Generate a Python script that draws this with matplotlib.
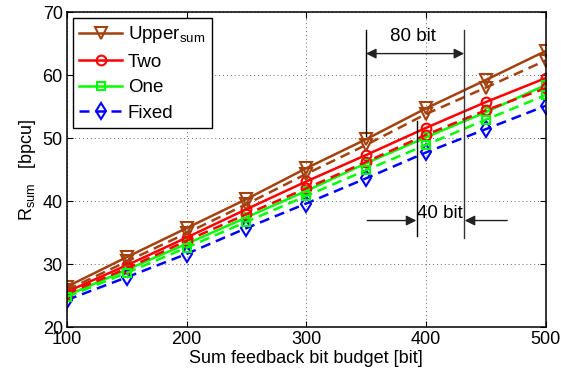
import matplotlib
matplotlib.use("Agg")
import matplotlib.pyplot as plt

plt.rcParams['font.family'] = ['Liberation Sans', 'DejaVu Sans']
plt.rcParams['mathtext.fontset'] = 'custom'
plt.rcParams['mathtext.rm'] = 'Liberation Sans'
plt.rcParams['mathtext.it'] = 'Liberation Sans'

x = [100, 150, 200, 250, 300, 350, 400, 450, 500]
upper_solid = [26.4, 31.1, 35.7, 40.3, 45.2, 49.8, 54.7, 59.2, 63.8]
upper_dashed = [25.9, 30.4, 34.9, 39.5, 44.3, 48.9, 53.8, 58.0, 62.3]
two_solid = [25.6, 29.8, 34.2, 38.7, 43.1, 47.3, 51.6, 55.7, 59.5]
two_dashed = [25.3, 29.3, 33.7, 37.9, 42.0, 46.2, 50.5, 54.4, 57.9]
one_solid = [25.0, 29.1, 33.2, 37.4, 41.6, 46.0, 50.1, 54.1, 58.4]
one_dashed = [24.8, 28.6, 32.6, 36.7, 40.8, 44.9, 48.9, 52.9, 56.8]
fixed = [24.3, 27.9, 31.6, 35.7, 39.6, 43.6, 47.7, 51.4, 55.1]

xticks = [100, 200, 300, 400, 500]
yticks = [20, 30, 40, 50, 60, 70]

brown = '#A3420F'
red = '#FF0000'
green = '#00FF00'
blue = '#0000FF'

fig = plt.figure(figsize=(5.61, 3.73), dpi=100)
ax = fig.add_axes([0.1194, 0.1233, 0.8530, 0.8445])

lw = 1.8
ms = 8
mew = 1.5
dash = (4.0, 2.4)

ax.plot(x, upper_solid, '-', color=brown, lw=lw, marker='v', ms=ms, mfc='none', mew=mew, label=r'Upper$_{\mathrm{sum}}$')
ax.plot(x, two_solid, '-', color=red, lw=lw, marker='o', ms=ms - 1, mfc='none', mew=mew, label='Two')
ax.plot(x, one_solid, '-', color=green, lw=lw, marker='s', ms=ms - 2, mfc='none', mew=mew, label='One')
ax.plot(x, fixed, '--', color=blue, lw=lw, marker='d', ms=ms, mfc='none', mew=mew, dashes=dash, label='Fixed')
ax.plot(x, upper_dashed, '--', color=brown, lw=lw, marker='v', ms=ms, mfc='none', mew=mew, dashes=dash)
ax.plot(x, two_dashed, '--', color=red, lw=lw, marker='o', ms=ms - 1, mfc='none', mew=mew, dashes=dash)
ax.plot(x, one_dashed, '--', color=green, lw=lw, marker='s', ms=ms - 2, mfc='none', mew=mew, dashes=dash)

ax.set_xlim(100, 500)
ax.set_ylim(20, 70)
ax.set_xticks(xticks)
ax.set_yticks(yticks)
ax.tick_params(direction='in', top=True, right=True, labelsize=13, length=4, width=0.8, pad=3)
ax.grid(True, linestyle=(0, (1, 3)), color='#666666', linewidth=0.7)
for s in ax.spines.values():
    s.set_linewidth(1.1)

ax.set_xlabel('Sum feedback bit budget [bit]', fontsize=13, labelpad=1)
ax.set_ylabel(r'R$_{\mathrm{sum}}$   [bpcu]', fontsize=13, labelpad=3)

leg = ax.legend(loc='upper left', fontsize=13.5, frameon=True, fancybox=False,
                edgecolor='black', framealpha=1, handlelength=2.3,
                borderaxespad=0.3, labelspacing=0.45, handletextpad=0.3,
                borderpad=0.35)
leg.get_frame().set_linewidth(1.0)

# annotations
ax.plot([350, 350], [67.1, 50.3], color='black', lw=1.0)
ax.plot([432, 432], [67.1, 34.1], color='#333333', lw=1.0)
ax.plot([392.5, 392.5], [52.7, 34.5], color='black', lw=1.0)
ax.annotate('', xy=(350, 63.4), xytext=(432, 63.4),
            arrowprops=dict(arrowstyle='<|-|>', color='#222222', lw=1.0,
                            mutation_scale=15, shrinkA=0, shrinkB=0))
ax.text(389, 66.1, '80 bit', fontsize=13.5, ha='center', va='center')
ax.annotate('', xy=(392, 36.9), xytext=(351, 36.9),
            arrowprops=dict(arrowstyle='-|>', color='#222222', lw=1.0,
                            mutation_scale=15, shrinkA=0, shrinkB=0))
ax.annotate('', xy=(432.5, 36.9), xytext=(468, 36.9),
            arrowprops=dict(arrowstyle='-|>', color='#222222', lw=1.0,
                            mutation_scale=15, shrinkA=0, shrinkB=0))
ax.text(411.5, 38.0, '40 bit', fontsize=13.5, ha='center', va='center')

fig.savefig('out.png', dpi=100)
